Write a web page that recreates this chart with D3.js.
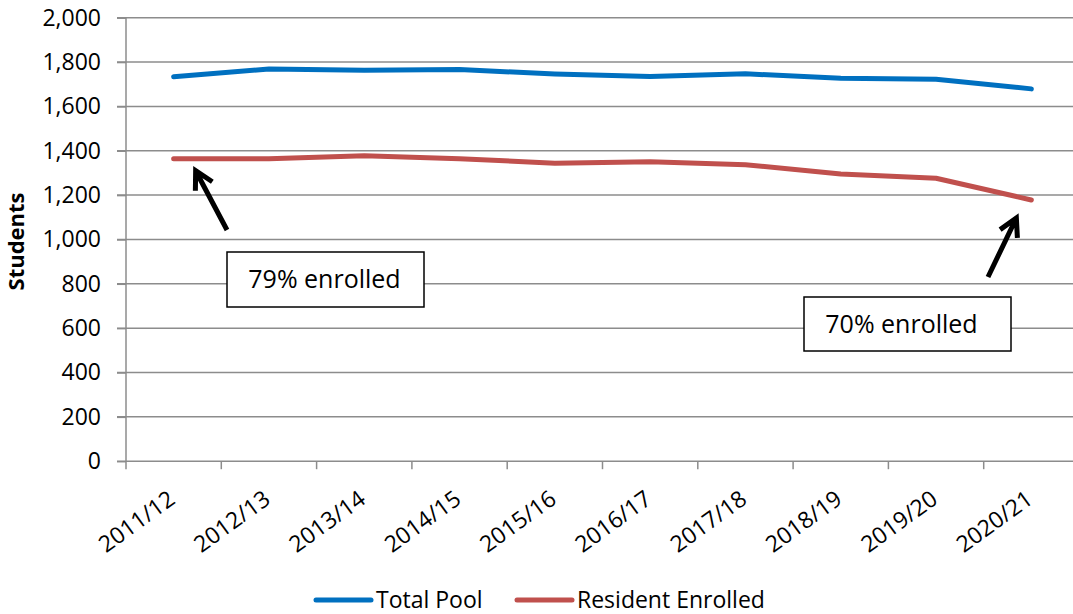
<!DOCTYPE html>
<html>
<head>
<meta charset="utf-8">
<script src="https://cdn.jsdelivr.net/npm/d3@7"></script>
<style>
  body { margin: 0; background: #fff; }
  svg { display: block; font-family: "Open Sans", sans-serif; }
</style>
</head>
<body>
<div id="chart"></div>
<script>
var width = 1073;
var height = 614;

// data
var years = ["2011/12", "2012/13", "2013/14", "2014/15", "2015/16", "2016/17", "2017/18", "2018/19", "2019/20", "2020/21"];
var totalPool = [1734, 1769, 1763, 1766, 1746, 1735, 1747, 1727, 1722, 1679];
var residentEnrolled = [1364, 1364, 1377, 1364, 1344, 1350, 1337, 1295, 1276, 1178];
var yTicks = [0, 200, 400, 600, 800, 1000, 1200, 1400, 1600, 1800, 2000];
var seriesNames = ["Total Pool", "Resident Enrolled"];
var seriesColors = ["#0070C0", "#C0504D"];
var notes = ["79% enrolled", "70% enrolled"];

var x = d3.scaleBand()
  .domain(years)
  .range([126, 1079]);

var y = d3.scaleLinear()
  .domain([0, 2000])
  .range([461.2, 17.7]);

const svg = d3.select("#chart").append("svg")
  .attr("width", width)
  .attr("height", height);

// grid
svg.append("g")
  .selectAll("line")
  .data(yTicks.slice(1))
  .join("line")
    .attr("x1", 117)
    .attr("x2", 1079)
    .attr("y1", d => y(d))
    .attr("y2", d => y(d))
    .attr("stroke", "#8c8c8c")
    .attr("stroke-width", 1.5);

// y axis
svg.append("g")
  .attr("transform", "translate(126,0)")
  .call(d3.axisLeft(y).tickValues(yTicks).tickSize(9).tickPadding(16).tickFormat(d3.format(",")))
  .call(g => g.selectAll("line, path").attr("stroke", "#8c8c8c").attr("stroke-width", 1.5))
  .call(g => g.select(".domain").attr("d", `M0,${y(2000)}V${y(0)}`))
  .call(g => g.selectAll("text").attr("font-size", 23).attr("font-family", "Open Sans").attr("fill", "#000"));

// x axis line + ticks at band edges
var edges = years.map(d => x(d)).concat([x.range()[1]]);
var gx = svg.append("g");
gx.append("line")
  .attr("x1", 117).attr("x2", 1079)
  .attr("y1", y(0)).attr("y2", y(0))
  .attr("stroke", "#8c8c8c").attr("stroke-width", 1.5);
gx.selectAll(".tick")
  .data(edges)
  .join("line")
    .attr("class", "tick")
    .attr("x1", d => d).attr("x2", d => d)
    .attr("y1", y(0)).attr("y2", y(0) + 8)
    .attr("stroke", "#8c8c8c").attr("stroke-width", 1.5);
gx.selectAll("text")
  .data(years)
  .join("text")
    .attr("transform", d => `translate(${x(d) + x.bandwidth() / 2 + 3},${y(0) + 41}) rotate(-36)`)
    .attr("text-anchor", "end")
    .attr("font-size", 23)
    .attr("fill", "#000")
    .text(d => d);

// y axis title
svg.append("text")
  .attr("transform", `translate(24,${(y(2000) + y(0)) / 2 + 2}) rotate(-90)`)
  .attr("text-anchor", "middle")
  .attr("font-size", 22)
  .attr("font-weight", "bold")
  .text("Students");

// lines
var line = d3.line()
  .x((d, i) => x(years[i]) + x.bandwidth() / 2)
  .y(d => y(d));

svg.selectAll(".series")
  .data([totalPool, residentEnrolled])
  .join("path")
    .attr("class", "series")
    .attr("d", line)
    .attr("fill", "none")
    .attr("stroke", (d, i) => seriesColors[i])
    .attr("stroke-width", 5)
    .attr("stroke-linecap", "round")
    .attr("stroke-linejoin", "round");

// annotations
function arrow(g, x1, y1, x2, y2) {
  var a = Math.atan2(y2 - y1, x2 - x1);
  var len = 20, spread = 0.5;
  var p1 = [x2 - len * Math.cos(a - spread), y2 - len * Math.sin(a - spread)];
  var p2 = [x2 - len * Math.cos(a + spread), y2 - len * Math.sin(a + spread)];
  g.append("path")
    .attr("d", `M${x1},${y1}L${x2},${y2}M${p1}L${x2},${y2}L${p2}`)
    .attr("fill", "none")
    .attr("stroke", "#000")
    .attr("stroke-width", 5)
    .attr("stroke-linejoin", "miter");
}

function note(g, text, bx, by, bw, bh, shift) {
  g.append("rect")
    .attr("x", bx).attr("y", by)
    .attr("width", bw).attr("height", bh)
    .attr("fill", "#fff")
    .attr("stroke", "#000")
    .attr("stroke-width", 1.5);
  g.append("text")
    .attr("x", bx + bw / 2 + shift)
    .attr("y", by + bh / 2)
    .attr("dy", "0.35em")
    .attr("text-anchor", "middle")
    .attr("font-size", 25)
    .text(text);
}

var gNotes = svg.append("g");
var p0 = [x(years[0]) + x.bandwidth() / 2, y(residentEnrolled[0])];
var pN = [x(years[years.length - 1]) + x.bandwidth() / 2, y(residentEnrolled[residentEnrolled.length - 1])];
arrow(gNotes, 227, 230, p0[0] + 22, p0[1] + 12);
note(gNotes, notes[0], 227, 252, 197, 55, -1);
arrow(gNotes, 988, 277, pN[0] - 15, pN[1] + 18);
note(gNotes, notes[1], 804, 297, 207, 54, -6);

// legend
var legend = svg.append("g").attr("transform", "translate(316,600)");
var items = legend.selectAll("g")
  .data(seriesNames)
  .join("g")
    .attr("transform", (d, i) => `translate(${i * 201},0)`);
items.append("line")
  .attr("x1", 0).attr("x2", 55)
  .attr("stroke", (d, i) => seriesColors[i])
  .attr("stroke-width", 5)
  .attr("stroke-linecap", "round");
items.append("text")
  .attr("x", 60)
  .attr("dy", "0.35em")
  .attr("font-size", 23)
  .text(d => d);
</script>
</body>
</html>
